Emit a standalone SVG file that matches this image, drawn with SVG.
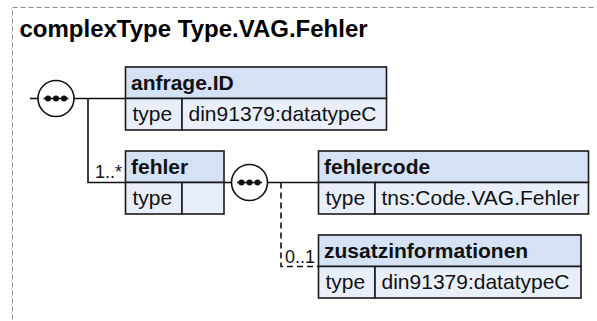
<svg xmlns="http://www.w3.org/2000/svg" width="597" height="321" viewBox="0 0 597 321">
<style>
.frame{fill:none;stroke:#8c8c8c;stroke-width:1;stroke-dasharray:5,3}
.title{font-family:"Liberation Sans",Arial,sans-serif;font-size:24px;font-weight:bold;fill:#000}
.hdr{fill:#d5e2f6;stroke:#1a1a1a;stroke-width:1.6}
.row{fill:#e8effa;stroke:#1a1a1a;stroke-width:1.6}
.name{font-family:"Liberation Sans",Arial,sans-serif;font-size:21px;font-weight:bold;fill:#111}
.txt{font-family:"Liberation Sans",Arial,sans-serif;font-size:21px;fill:#111}
.card{font-family:"Liberation Sans",Arial,sans-serif;font-size:18px;fill:#111}
.ln{fill:none;stroke:#111;stroke-width:1.6}
.dash{fill:none;stroke:#111;stroke-width:1.6;stroke-dasharray:6,4}
.seq{fill:#fff;stroke:#111;stroke-width:1.6}
.dot{fill:#111}
</style>
<rect class="frame" x="12.5" y="7.5" width="700" height="400"/>
<text class="title" x="19.5" y="37">complexType Type.VAG.Fehler</text>

<g id="connectors">
<line class="ln" x1="30" y1="98.5" x2="38" y2="98.5"/>
<path class="ln" d="M74,98.5 H125.5"/>
<path class="ln" d="M88,98.5 V182.5 H125.5"/>
<path class="ln" d="M224,182.5 H231"/>
<path class="ln" d="M268,182.5 H318.5"/>
<path class="dash" d="M281,182.5 V266.5 H318.5"/>
<text class="card" x="122" y="178" text-anchor="end">1..*</text>
<text class="card" x="315" y="263" text-anchor="end">0..1</text>
</g>

<g id="seq1">
<circle class="seq" cx="56" cy="98.5" r="18"/>
<line class="ln" x1="43.5" y1="98.5" x2="68.5" y2="98.5"/>
<circle class="dot" cx="48" cy="98.5" r="3"/>
<circle class="dot" cx="56" cy="98.5" r="3"/>
<circle class="dot" cx="64" cy="98.5" r="3"/>
</g>

<g id="seq2">
<circle class="seq" cx="249.5" cy="182.5" r="18"/>
<line class="ln" x1="237" y1="182.5" x2="262" y2="182.5"/>
<circle class="dot" cx="241.5" cy="182.5" r="3"/>
<circle class="dot" cx="249.5" cy="182.5" r="3"/>
<circle class="dot" cx="257.5" cy="182.5" r="3"/>
</g>

<g id="anfrage.ID">
<rect class="hdr" x="125.5" y="67" width="261" height="31.5"/>
<rect class="row" x="125.5" y="98.5" width="56.5" height="31.5"/>
<rect class="row" x="182" y="98.5" width="204.5" height="31.5"/>
<text class="name" x="131" y="90">anfrage.ID</text>
<text class="txt" x="132.5" y="121">type</text>
<text class="txt" x="188.5" y="121">din91379:datatypeC</text>
</g>

<g id="fehler">
<rect class="hdr" x="125.5" y="151" width="98.5" height="31.5"/>
<rect class="row" x="125.5" y="182.5" width="56.5" height="31.5"/>
<rect class="row" x="182" y="182.5" width="42" height="31.5"/>
<text class="name" x="131" y="174">fehler</text>
<text class="txt" x="132.5" y="205">type</text>
</g>

<g id="fehlercode">
<rect class="hdr" x="318.5" y="151" width="270" height="31.5"/>
<rect class="row" x="318.5" y="182.5" width="56.5" height="31.5"/>
<rect class="row" x="375" y="182.5" width="213.5" height="31.5"/>
<text class="name" x="324" y="174">fehlercode</text>
<text class="txt" x="325.5" y="205">type</text>
<text class="txt" x="381.5" y="205">tns:Code.VAG.Fehler</text>
</g>

<g id="zusatzinformationen">
<rect class="hdr" x="318.5" y="235" width="262.5" height="31.5"/>
<rect class="row" x="318.5" y="266.5" width="56.5" height="31.5"/>
<rect class="row" x="375" y="266.5" width="206" height="31.5"/>
<text class="name" x="324" y="258">zusatzinformationen</text>
<text class="txt" x="325.5" y="289">type</text>
<text class="txt" x="381.5" y="289">din91379:datatypeC</text>
</g>
</svg>
